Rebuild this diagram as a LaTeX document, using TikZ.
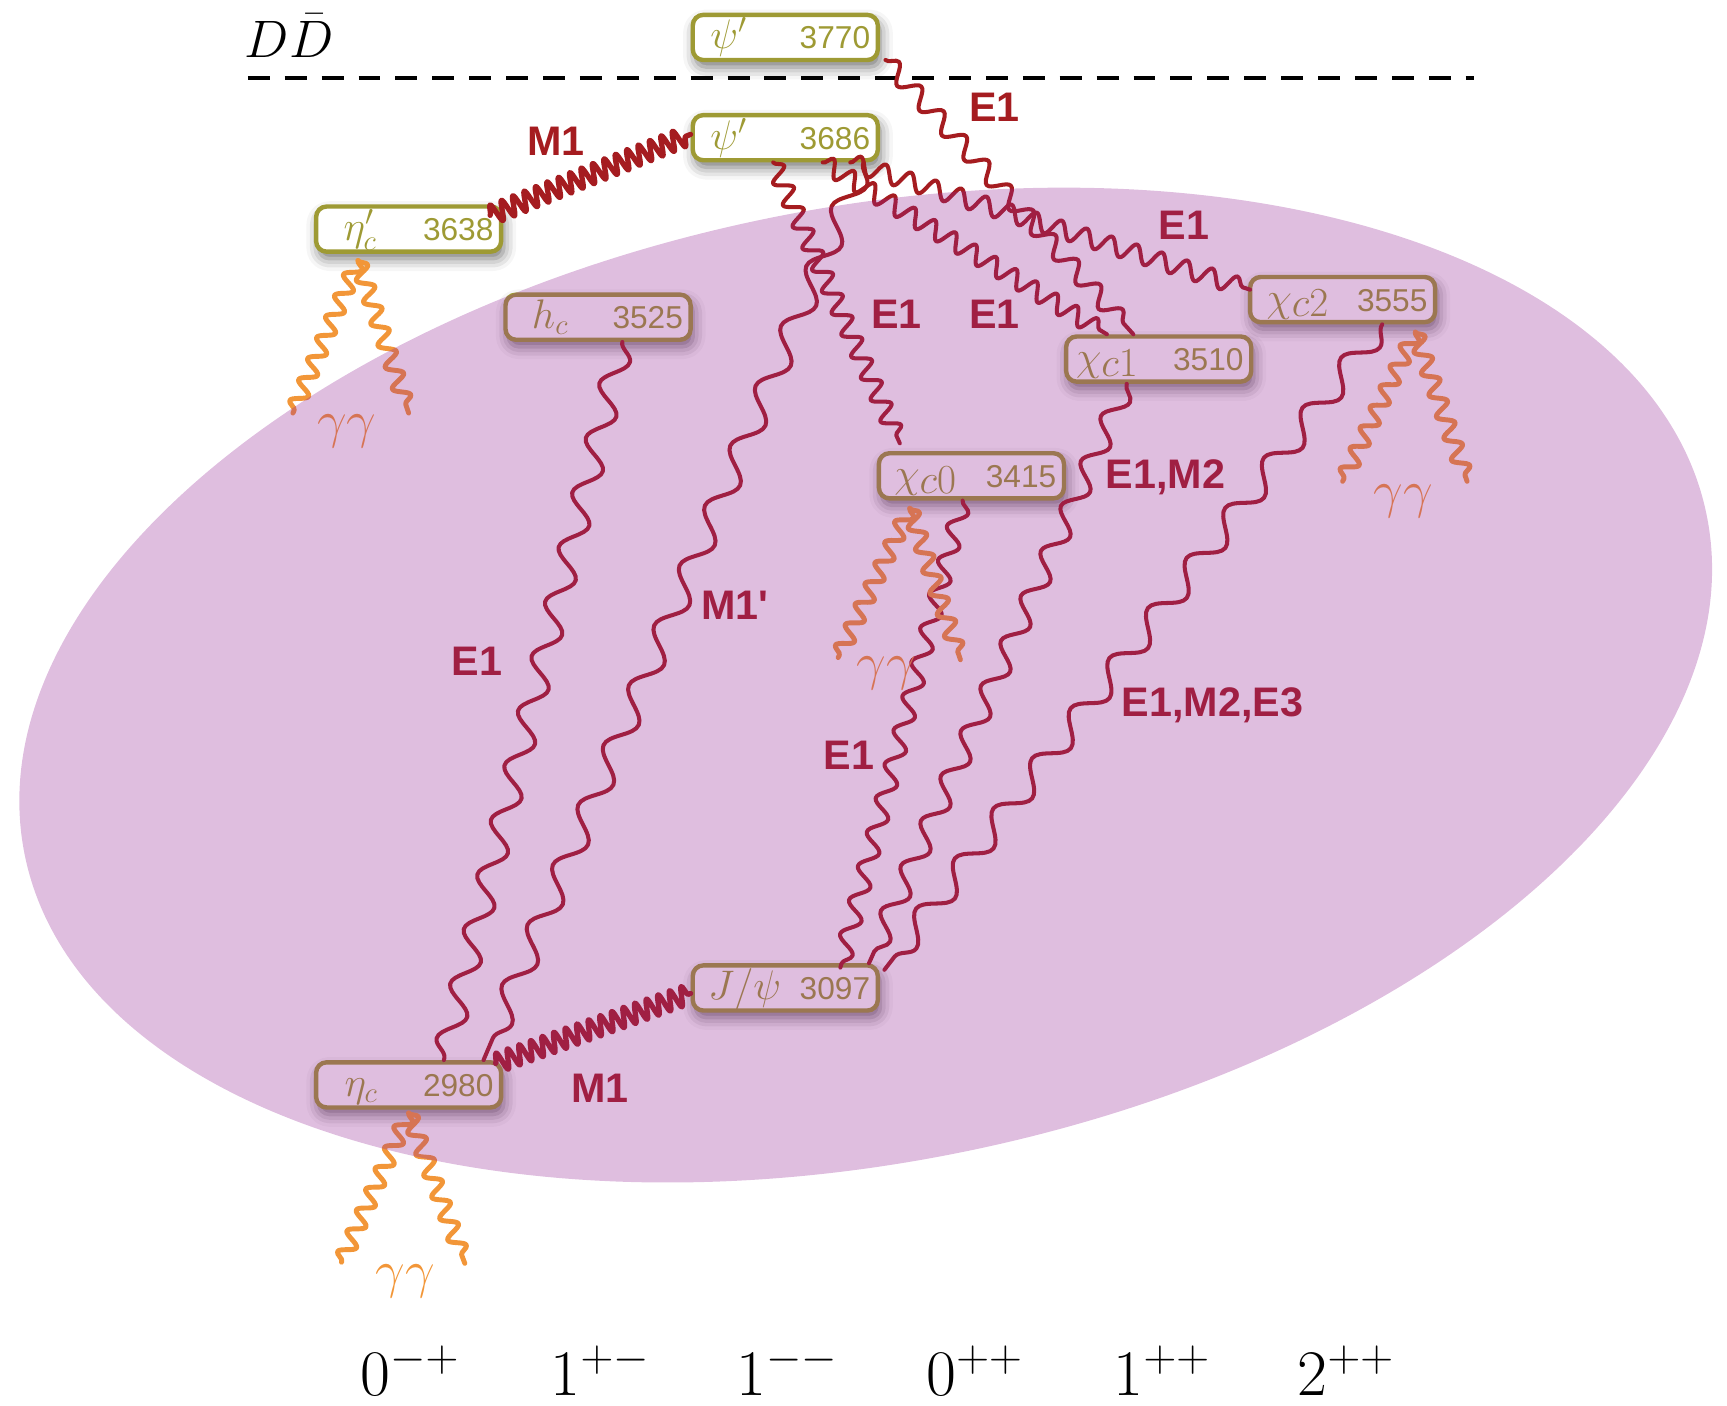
\RequirePackage{fix-cm}
\documentclass[tikz,border=0pt]{standalone}
\usepackage{fontspec}
\setsansfont{Liberation Sans}
\usetikzlibrary{decorations.pathmorphing,calc,shadows.blur}

\definecolor{olivebox}{RGB}{158,154,52}
\definecolor{wavered}{RGB}{165,28,32}
\definecolor{gamorange}{RGB}{242,150,56}
\definecolor{ellcol}{RGB}{150,40,150}

\newlength\ux \setlength\ux{0.22028mm}
\newcommand\bxin[3]{\hbox to 168\ux{\hspace*{#1\ux}{\fontsize{23.5}{25}\selectfont$#2$}\hfill{\sffamily\fontsize{18}{20}\selectfont #3}\hspace*{7\ux}}}
\newcommand\chisub[1]{\chi\raisebox{-0.14em}{$c#1$}}

\tikzset{
  box/.style={draw=olivebox, line width=2.5pt, rounded corners=6pt, fill=white,
    minimum width=168\ux, minimum height=41\ux, inner xsep=0pt,
    text height=13pt, text depth=0pt, text=olivebox,
    blur shadow={shadow xshift=1.5pt, shadow yshift=-4pt, shadow blur radius=7pt, shadow opacity=55}},
  wv/.style 2 args={draw=wavered, line width=2.3pt, line cap=round, line join=round,
    decorate, decoration={snake, amplitude=#1, segment length=#2}},
  mw/.style={draw=wavered, line width=3pt, line cap=round, line join=round,
    decorate, decoration={snake, amplitude=5.5pt, segment length=7pt}},
  gw/.style={draw=gamorange, line width=2.8pt, line cap=round, line join=round,
    decorate, decoration={snake, amplitude=4.5pt, segment length=13pt}},
  lab/.style={text=wavered, font=\sffamily\bfseries\fontsize{23.5}{25}\selectfont, inner sep=0pt},
  gglab/.style={text=gamorange, font=\fontsize{30}{32}\selectfont, inner sep=0pt},
  jpc/.style={font=\fontsize{37}{40}\selectfont, anchor=base, inner sep=0pt},
  ddash/.style={line width=2.5pt, dash pattern=on 12.5pt off 8.5pt}
}

\begin{document}
\begin{tikzpicture}[x=0.22028mm, y=-0.22028mm]
\useasboundingbox (0,0) rectangle (1568,1276);

% threshold
\coordinate (dl) at (225,71);
\coordinate (dr) at (1338,71);
\draw[ddash] (dl) -- (dr);
\node[anchor=base west, inner sep=0pt, font=\fontsize{30}{32}\selectfont] (dd) at (222,52) {$D\bar{D}$};

% states
\node[box] (psiC) at (713,34)  {\bxin{16}{\psi'}{3770}};
\node[box] (psiB) at (713,125) {\bxin{16}{\psi'}{3686}};
\node[box] (etap) at (371,208) {\bxin{25}{\eta_c'}{3638}};
\node[box] (hc)   at (543,288) {\bxin{24}{h_c}{3525}};
\node[box] (chi2) at (1219,272) {\bxin{15}{\chisub{2}}{3555}};
\node[box] (chi1) at (1052,326) {\bxin{9}{\chisub{1}}{3510}};
\node[box] (chi0) at (882,432) {\bxin{14}{\chisub{0}}{3415}};
\node[box] (jpsi) at (713,897) {\bxin{14}{J/\psi}{3097}};
\node[box] (etac) at (371,985) {\bxin{26}{\eta_c}{2980}};

% M1 transitions
\draw[mw] ($(etap.north east)+(-12,10)$) -- ($(psiB.west)+(0,-3)$);
\draw[mw] ($(etac.north east)+(-7,3)$) -- ($(jpsi.west)+(0,5)$);

% E1 from psi(3770)
\draw[wv={5pt}{19pt}] ($(psiC.south east)+(5,-2)$) -- ($(chi1.north)+(-23,0)$);
% E1 from psi(3686)
\draw[wv={5pt}{13.5pt}] ($(psiB.south)+(-11,0)$) -- ($(chi0.north)+(-65,-7)$);
\draw[wv={5pt}{13.5pt}] ($(psiB.south)+(34,0)$) -- ($(chi1.north)+(-47,0)$);
\draw[wv={5pt}{15pt}] ($(psiB.south)+(59,0)$) -- ($(chi2.west)+(2,-9)$);
% M1'
\draw[wv={7pt}{37pt}] ($(psiB.south)+(71,0)$) -- ($(etac.north east)+(-18,0)$);
% hc -> etac
\draw[wv={7pt}{32pt}] ($(hc.south)+(22,0)$) -- ($(etac.north)+(32,0)$);
% chi -> J/psi
\draw[wv={5pt}{20pt}] ($(chi0.south)+(-8,0)$) -- ($(jpsi.north east)+(-36,4)$);
\draw[wv={6pt}{28pt}] ($(chi1.south)+(-29,0)$) -- ($(jpsi.north east)+(-10,0)$);
\draw[wv={7pt}{36pt}] ($(chi2.south)+(36,0)$) -- ($(jpsi.north east)+(4,6)$);

% two-photon decays
\coordinate (g1a) at (266,375); \coordinate (g1b) at (371,375);
\coordinate (g2a) at (761,597); \coordinate (g2b) at (872,599);
\coordinate (g3a) at (1219,437); \coordinate (g3b) at (1332,437);
\coordinate (g4a) at (310,1146); \coordinate (g4b) at (422,1147);
\draw[gw] ($(etap.south)+(-46,6)$) -- (g1a);
\draw[gw] ($(etap.south)+(-46,6)$) -- (g1b);
\draw[gw] ($(chi0.south)+(-56,7)$) -- (g2a);
\draw[gw] ($(chi0.south)+(-56,7)$) -- (g2b);
\draw[gw] ($(chi2.south)+(66,7)$) -- (g3a);
\draw[gw] ($(chi2.south)+(66,7)$) -- (g3b);
\draw[gw] ($(etac.south)+(0,3)$) -- (g4a);
\draw[gw] ($(etac.south)+(0,3)$) -- (g4b);
\node[gglab] (gg1) at (315,392) {$\gamma\gamma$};
\node[gglab] (gg2) at (805,611) {$\gamma\gamma$};
\node[gglab] (gg3) at (1274,455) {$\gamma\gamma$};
\node[gglab] (gg4) at (368,1163) {$\gamma\gamma$};

% transition labels
\node[lab] (l1) at (505,128) {M1};
\node[lab] (l2) at (903,97) {E1};
\node[lab] (l3) at (1075,205) {E1};
\node[lab] (l4) at (814,285) {E1};
\node[lab] (l5) at (903,285) {E1};
\node[lab] (l6) at (433,600) {E1};
\node[lab] (l7) at (667,550) {M1\textquotesingle};
\node[lab] (l8) at (1058,433) {E1,M2};
\node[lab] (l9) at (771,686) {E1};
\node[lab] (l10) at (1101,640) {E1,M2,E3};
\node[lab] (l11) at (545,988) {M1};

% J^PC row
\node[jpc] (j1) at (372,1267) {$0^{-+}$};
\node[jpc] (j2) at (545,1267) {$1^{+-}$};
\node[jpc] (j3) at (715,1267) {$1^{--}$};
\node[jpc] (j4) at (885,1267) {$0^{++}$};
\node[jpc] (j5) at (1055,1267) {$1^{++}$};
\node[jpc] (j6) at (1222,1267) {$2^{++}$};

% translucent region
\fill[ellcol, opacity=0.3, rotate around={11.4:(786,622)}] (786,622) ellipse [x radius=779, y radius=433];
\end{tikzpicture}
\end{document}
